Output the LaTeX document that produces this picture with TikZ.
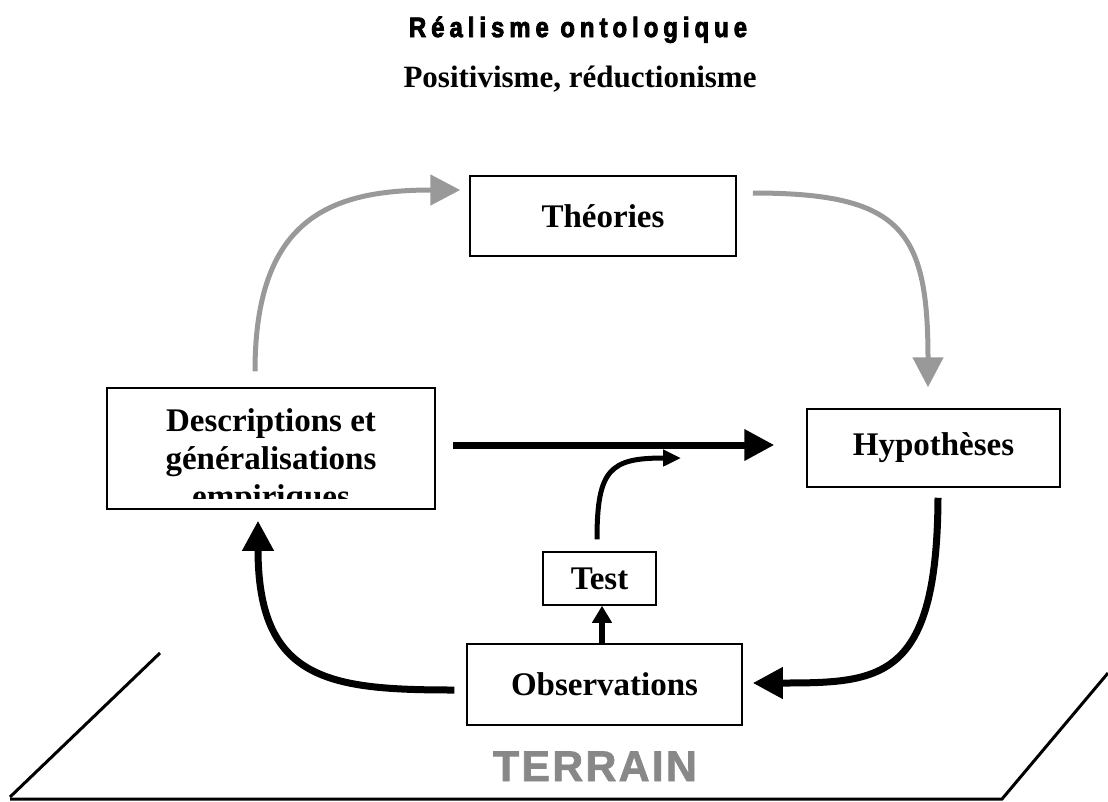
\documentclass[tikz,border=0pt]{standalone}
\usepackage{fontspec}
\setmainfont{Liberation Serif}
\newfontfamily\titlefont[FakeStretch=0.85, LetterSpace=18, FakeBold=3]{Liberation Sans Bold}
\newfontfamily\terrainfont[LetterSpace=5, FakeBold=1.5]{Liberation Sans Bold}
\usepackage{xcolor}
\usepackage{tikz}
\usetikzlibrary{arrows.meta,calc,positioning}
\definecolor{arrowgrey}{HTML}{999999}
\definecolor{terraingrey}{HTML}{888888}

\begin{document}
\begin{tikzpicture}[
    x=1pt, y=-1pt,
    box/.style={draw, line width=1.5pt, rectangle, inner sep=0,
        font=\fontsize{33}{38}\selectfont\bfseries},
    boxtext/.style={inner sep=0, align=center, font=\fontsize{33}{38}\selectfont\bfseries},
    greyarrow/.style={draw=arrowgrey, line width=5pt, -{Triangle[length=30pt, width=30pt]}},
    blackarrow/.style={draw, line width=7pt, -{Triangle[length=30pt, width=30pt]}},
    smallarrow/.style={draw, line width=5pt, -{Triangle[length=18pt, width=16pt]}},
    ground/.style={draw, line width=3pt}]
\useasboundingbox (0,0) rectangle (1108,801);

\node[anchor=base, inner sep=0, font={\fontsize{28}{30}\titlefont}] (title) at (578,37) {Réalisme ontologique};
\node[anchor=base, inner sep=0, font=\fontsize{31}{36}\selectfont\bfseries] (subtitle) at (580,87) {Positivisme, réductionisme};

\node[box, minimum width=266pt, minimum height=80pt] (theories) at (603,216) {Théories};
\node[box, minimum width=328pt, minimum height=121pt] (descr) at (271,448.5) {};
\begin{scope}
\clip ([yshift=11pt]descr.south west) rectangle (descr.north east);
\node[boxtext] (descrtext) at (271,462) {Descriptions et\\généralisations\\empiriques};
\end{scope}
\node[box, minimum width=253pt, minimum height=78pt] (hypo) at (933.5,448) {Hypothèses};
\node[box, minimum width=113pt, minimum height=53pt] (test) at (599.5,578.5) {Test};
\node[box, minimum width=275pt, minimum height=81pt] (obs) at (604.5,684.5) {Observations};
\node[anchor=base, inner sep=0, text=terraingrey, font={\fontsize{43}{46}\terrainfont}] (terrain) at (595,781) {TERRAIN};
\coordinate (testend) at (681,458);

\path[greyarrow] ([xshift=-16pt, yshift=16pt]descr.north) .. controls +(0,-152) and +(-131,0) .. ([xshift=-9pt, yshift=26pt]theories.west);
\path[greyarrow] ([xshift=16pt, yshift=23pt]theories.east) .. controls +(148,0) and +(0,-158) .. ([xshift=-5.5pt, yshift=21pt]hypo.north);
\path[blackarrow] ([xshift=17pt, yshift=3.5pt]descr.east) -- ([xshift=-32pt, yshift=3pt]hypo.west);
\path[blackarrow] ([xshift=4.5pt, yshift=-10pt]hypo.south) .. controls +(-1,183) and +(128,0) .. ([xshift=10pt, yshift=1.5pt]obs.east);
\path[blackarrow] ([xshift=-12pt, yshift=-5.5pt]obs.west) .. controls +(-125,0) and +(0,160) .. ([xshift=-13pt, yshift=-11pt]descr.south);
\path[smallarrow] ([xshift=-2.5pt, yshift=12pt]test.north) .. controls +(0,-70) and +(-71,0) .. (testend);
\path[draw, line width=6pt, -{Triangle[length=17pt, width=19pt]}] ([xshift=-2.5pt]obs.north) -- ([xshift=2.5pt]test.south);

\path[ground] (160,653) -- (10,797);
\path[ground] (10,799) -- (1002,799) -- (1108,673);

\end{tikzpicture}
\end{document}
